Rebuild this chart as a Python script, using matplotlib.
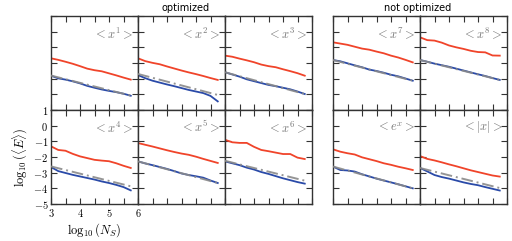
import matplotlib
matplotlib.use("Agg")
import matplotlib.pyplot as plt

plt.rcParams['mathtext.fontset'] = 'cm'

ns = [3.0, 3.25, 3.5, 3.75, 4.0, 4.25, 4.5, 4.75, 5.0, 5.25, 5.5, 5.75]
ns_fit = [3.0, 5.75]

# panel labels
labels = [r'$<x^1>$', r'$<x^2>$', r'$<x^3>$', r'$<x^7>$', r'$<x^8>$',
          r'$<x^4>$', r'$<x^5>$', r'$<x^6>$', r'$<e^x>$', r'$<|x|>$']

# red curves (log10 error)
red_x1 = [-1.70, -1.80, -1.92, -2.05, -2.20, -2.36, -2.46, -2.53, -2.66, -2.79, -2.93, -3.06]
red_x2 = [-1.70, -1.88, -1.99, -2.08, -2.22, -2.35, -2.48, -2.60, -2.71, -2.83, -2.96, -3.08]
red_x3 = [-1.53, -1.60, -1.72, -1.83, -1.95, -2.10, -2.20, -2.27, -2.40, -2.52, -2.65, -2.81]
red_x7 = [-0.68, -0.76, -0.84, -0.96, -1.08, -1.15, -1.27, -1.38, -1.53, -1.65, -1.80, -1.96]
red_x8 = [-0.36, -0.54, -0.57, -0.70, -0.88, -1.00, -1.10, -1.22, -1.30, -1.32, -1.52, -1.53]
red_x4 = [-1.32, -1.55, -1.60, -1.80, -1.96, -2.07, -2.18, -2.23, -2.27, -2.40, -2.56, -2.70]
red_x5 = [-1.11, -1.22, -1.33, -1.45, -1.57, -1.68, -1.78, -1.86, -1.98, -2.12, -2.25, -2.38]
red_x6 = [-0.90, -1.06, -1.10, -1.10, -1.35, -1.55, -1.63, -1.72, -1.81, -1.81, -2.04, -2.13]
red_ex = [-1.51, -1.66, -1.76, -1.84, -2.02, -2.14, -2.26, -2.40, -2.50, -2.62, -2.72, -2.83]
red_ax = [-1.94, -2.12, -2.22, -2.34, -2.47, -2.59, -2.72, -2.85, -2.96, -3.07, -3.18, -3.25]

# blue curves
blue_x1 = [-2.81, -2.98, -3.06, -3.17, -3.30, -3.46, -3.58, -3.69, -3.78, -3.86, -3.96, -4.09]
blue_x2 = [-2.77, -2.97, -3.13, -3.25, -3.37, -3.48, -3.60, -3.72, -3.82, -3.92, -4.10, -4.45]
blue_x3 = [-2.59, -2.73, -2.87, -3.04, -3.16, -3.28, -3.40, -3.48, -3.58, -3.68, -3.82, -3.98]
blue_x7 = [-1.81, -1.89, -2.02, -2.15, -2.27, -2.42, -2.51, -2.62, -2.75, -2.85, -2.99, -3.13]
blue_x8 = [-1.81, -1.92, -2.04, -2.14, -2.24, -2.36, -2.48, -2.60, -2.72, -2.83, -2.96, -3.08]
blue_x4 = [-2.64, -2.90, -3.02, -3.14, -3.24, -3.34, -3.44, -3.56, -3.66, -3.78, -3.92, -4.13]
blue_x5 = [-2.28, -2.41, -2.52, -2.64, -2.76, -2.90, -3.05, -3.15, -3.23, -3.32, -3.50, -3.66]
blue_x6 = [-2.28, -2.40, -2.52, -2.68, -2.80, -2.96, -3.08, -3.22, -3.36, -3.48, -3.60, -3.70]
blue_ex = [-2.61, -2.83, -2.86, -2.93, -3.10, -3.24, -3.38, -3.50, -3.62, -3.74, -3.87, -4.00]
blue_ax = [-2.70, -2.92, -3.15, -3.28, -3.38, -3.50, -3.62, -3.72, -3.80, -3.92, -4.03, -4.14]

# gray dash-dot fits (end points)
gray_x1 = [-2.80, -4.08]
gray_x2 = [-2.70, -4.04]
gray_x3 = [-2.59, -3.98]
gray_x7 = [-1.81, -3.13]
gray_x8 = [-1.81, -3.08]
gray_x4 = [-2.60, -3.87]
gray_x5 = [-2.28, -3.66]
gray_x6 = [-2.24, -3.51]
gray_ex = [-2.61, -4.00]
gray_ax = [-2.70, -3.98]

reds = [red_x1, red_x2, red_x3, red_x7, red_x8, red_x4, red_x5, red_x6, red_ex, red_ax]
blues = [blue_x1, blue_x2, blue_x3, blue_x7, blue_x8, blue_x4, blue_x5, blue_x6, blue_ex, blue_ax]
grays = [gray_x1, gray_x2, gray_x3, gray_x7, gray_x8, gray_x4, gray_x5, gray_x6, gray_ex, gray_ax]

RED = '#f0442a'
BLUE = '#2a4aa8'
GRAY = '#8a8a8a'

fig = plt.figure(figsize=(5.12, 2.41), dpi=100)

W, H = 512.0, 241.0
pw = 87.0
ph = 94.0
lefts = [51, 138, 225, 333, 420]
tops = [16, 110]

axes = []
for r in range(2):
    for c in range(5):
        i = r * 5 + c
        l = lefts[c] / W
        b = 1 - (tops[r] + ph) / H
        ax = fig.add_axes([l, b, pw / W, ph / H])
        ax.plot(ns, reds[i], color=RED, lw=1.3, zorder=2)
        ax.plot(ns, blues[i], color=BLUE, lw=1.3, zorder=2)
        ax.plot(ns_fit, grays[i], color=GRAY, lw=1.4, ls=(0, (6, 2, 1, 2)), zorder=3, alpha=0.9)
        ax.set_xlim(3, 6)
        ax.set_ylim(-5, 1)
        ax.set_xticks([3, 3.5, 4, 4.5, 5, 5.5, 6])
        ax.set_yticks([-5, -4, -3, -2, -1, 0, 1])
        ax.tick_params(direction='in', top=True, right=True, length=4, width=0.8,
                       color='#333333', labelsize=7.5, pad=2)
        for s in ax.spines.values():
            s.set_linewidth(1.0)
            s.set_color('#333333')
        ax.text(0.95, 0.82, labels[i], transform=ax.transAxes, ha='right', va='center',
                color='#777777', fontsize=9)
        if r == 1 and c == 0:
            ax.set_xticklabels(['$3$', '', '$4$', '', '$5$', '', '$6$'])
            ax.set_yticklabels(['$-5$', '$-4$', '$-3$', '$-2$', '$-1$', '$0$', '$1$'])
            ax.set_xlabel(r'$\log_{10}(N_S)$', fontsize=9, labelpad=2)
            ax.set_ylabel(r'$\log_{10}(\langle E\rangle)$', fontsize=9, labelpad=2)
        else:
            ax.set_xticklabels([])
            ax.set_yticklabels([])
        axes.append(ax)

fig.text(186 / W, 1 - 8 / H, 'optimized', ha='center', va='center', fontsize=7)
fig.text(418 / W, 1 - 8 / H, 'not optimized', ha='center', va='center', fontsize=7)

fig.savefig('out.png', dpi=100)
